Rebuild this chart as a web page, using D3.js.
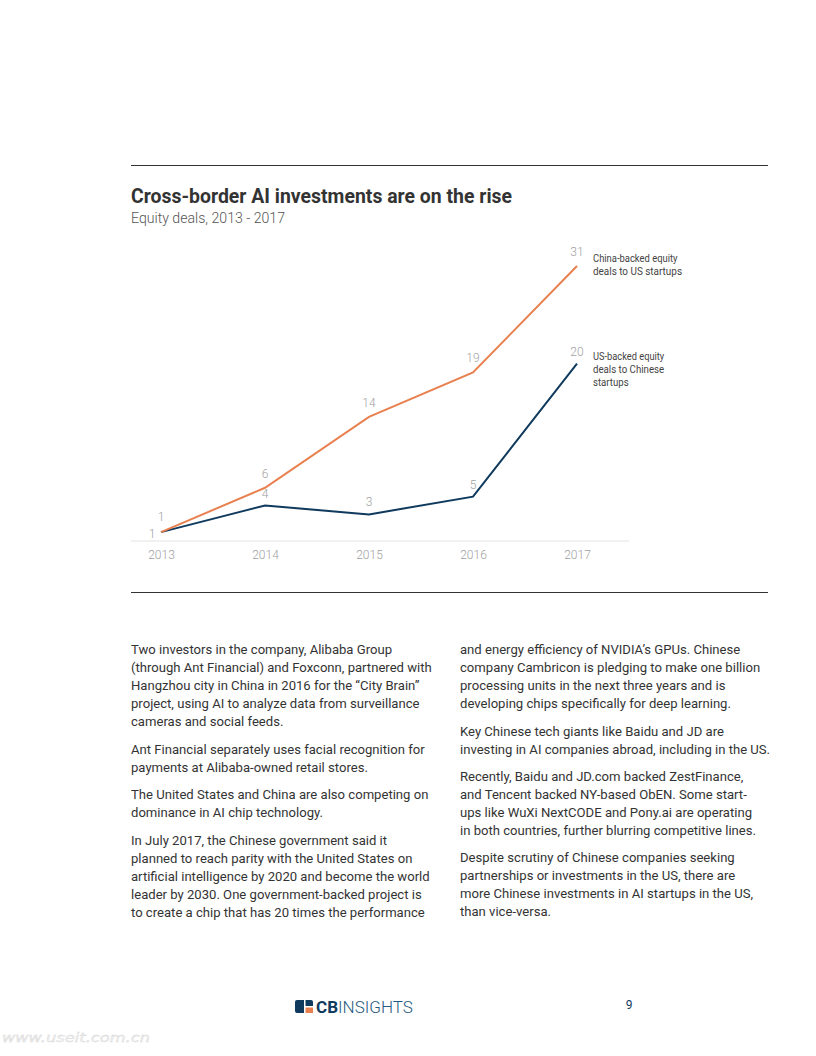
<!DOCTYPE html>
<html><head><meta charset="utf-8">
<script src="https://cdn.jsdelivr.net/npm/d3@7"></script>
<style>
body{margin:0;background:#fff;}
svg{display:block;}
</style></head>
<body>
<svg id="page" width="816" height="1056"></svg>
<script>
const years = ["2013","2014","2015","2016","2017"];
const chinaBacked = [1, 6, 14, 19, 31];
const usBacked = [1, 4, 3, 5, 20];
const seriesNames = [["China-backed equity","deals to US startups"],["US-backed equity","deals to Chinese","startups"]];
const leftColumn = [
 ["Two investors in the company, Alibaba Group","(through Ant Financial) and Foxconn, partnered with","Hangzhou city in China in 2016 for the \u201cCity Brain\u201d","project, using AI to analyze data from surveillance","cameras and social feeds."],
 ["Ant Financial separately uses facial recognition for","payments at Alibaba-owned retail stores."],
 ["The United States and China are also competing on","dominance in AI chip technology."],
 ["In July 2017, the Chinese government said it","planned to reach parity with the United States on","artificial intelligence by 2020 and become the world","leader by 2030. One government-backed project is","to create a chip that has 20 times the performance"]
];
const rightColumn = [
 ["and energy efficiency of NVIDIA\u2019s GPUs. Chinese","company Cambricon is pledging to make one billion","processing units in the next three years and is","developing chips specifically for deep learning."],
 ["Key Chinese tech giants like Baidu and JD are","investing in AI companies abroad, including in the US."],
 ["Recently, Baidu and JD.com backed ZestFinance,","and Tencent backed NY-based ObEN. Some start-","ups like WuXi NextCODE and Pony.ai are operating","in both countries, further blurring competitive lines."],
 ["Despite scrutiny of Chinese companies seeking","partnerships or investments in the US, there are","more Chinese investments in AI startups in the US,","than vice-versa."]
];

const svg = d3.select("#page");
const orange = "#e9804f", navy = "#0f3a5d";

// rules
svg.append("line").attr("x1",131).attr("x2",768).attr("y1",165.5).attr("y2",165.5).attr("stroke","#333").attr("stroke-width",1);
svg.append("line").attr("x1",131).attr("x2",768).attr("y1",592.5).attr("y2",592.5).attr("stroke","#333").attr("stroke-width",1);

// title
svg.append("text").attr("x",131).attr("y",203).text("Cross-border AI investments are on the rise")
  .attr("font-family","Roboto").attr("font-weight",700).attr("font-size",20).attr("fill","#333")
  .attr("textLength",381).attr("lengthAdjust","spacingAndGlyphs");
svg.append("text").attr("x",131).attr("y",223).text("Equity deals, 2013 - 2017")
  .attr("font-family","Roboto").attr("font-weight",300).attr("font-size",14.5).attr("fill","#555")
  .attr("textLength",154).attr("lengthAdjust","spacingAndGlyphs");

// scales
const x = d3.scalePoint().domain(years).range([161,577]);
const y = d3.scaleLinear().domain([0,31]).range([541,266]);

// axis baseline
svg.append("line").attr("x1",131).attr("x2",629).attr("y1",y(0)).attr("y2",y(0)).attr("stroke","#ececec").attr("stroke-width",1.5);

const xAxis = svg.append("g").attr("transform",`translate(0,${y(0)})`)
  .call(d3.axisBottom(x).tickSize(0).tickPadding(9));
xAxis.select(".domain").remove();
xAxis.selectAll("text").attr("font-family","Roboto").attr("font-weight",300).attr("font-size",12).attr("fill","#a0a0a0");

const line = d3.line().x((d,i)=>x(years[i])).y(d=>y(d));
svg.append("path").datum(usBacked).attr("d",line).attr("fill","none").attr("stroke",navy).attr("stroke-width",2);
svg.append("path").datum(chinaBacked).attr("d",line).attr("fill","none").attr("stroke",orange).attr("stroke-width",2);

// value labels
const lblFont = sel => sel.attr("font-family","Roboto").attr("font-weight",300).attr("font-size",12).attr("fill","#a0a0a0").attr("text-anchor","middle");
svg.append("g").selectAll("text").data(chinaBacked).join("text")
  .attr("x",(d,i)=>x(years[i])).attr("y",(d,i)=> y(d) - (i===0?11:10)).text(d=>d).call(lblFont);
svg.append("g").selectAll("text").data(usBacked).join("text")
  .attr("x",(d,i)=> i===0 ? x(years[i]) - 9 : x(years[i]))
  .attr("y",(d,i)=> i===0 ? y(d)+2 : y(d)-8).text(d=>d).call(lblFont)
  .attr("dy", (d,i)=> i===0 ? "0.35em" : null);

// series labels
const endIdx = years.length-1;
[[chinaBacked,seriesNames[0]],[usBacked,seriesNames[1]]].forEach(([vals,names])=>{
  const t = svg.append("text").attr("x",x(years[endIdx])+16).attr("y",y(vals[endIdx])-4)
    .attr("font-family","Roboto").attr("font-size",10).attr("fill","#444");
  names.forEach((n,i)=> t.append("tspan").attr("x",x(years[endIdx])+16).attr("dy", i===0?0:13).text(n)
     .attr("textLength", n.length*4.45).attr("lengthAdjust","spacingAndGlyphs"));
});

// body text
function column(paras, x0, starts){
  paras.forEach((p,pi)=>{
    p.forEach((ln,li)=>{
      svg.append("text").attr("x",x0).attr("y",starts[pi]+li*18).text(ln)
        .attr("font-family","Roboto").attr("font-size",13.1).attr("fill","#333");
    });
  });
}
column(leftColumn, 131, [654, 754, 799, 845]);
column(rightColumn, 460, [654, 736, 781, 862]);

// logo
const logo = svg.append("g").attr("transform","translate(295,1000)");
logo.append("rect").attr("x",0).attr("y",0).attr("width",18).attr("height",13).attr("rx",2).attr("fill",navy);
logo.append("rect").attr("x",10).attr("y",7).attr("width",8).attr("height",6).attr("fill",orange);
logo.append("rect").attr("x",9).attr("y",0).attr("width",1.5).attr("height",13).attr("fill","#fff");
logo.append("rect").attr("x",9).attr("y",6).attr("width",9).attr("height",1.5).attr("fill","#fff");
const lt = logo.append("text").attr("x",21).attr("y",13).attr("font-family","Roboto").attr("font-size",17).attr("fill",navy)
  .attr("textLength",97).attr("lengthAdjust","spacingAndGlyphs");
lt.append("tspan").attr("font-weight",700).text("CB");
lt.append("tspan").attr("font-weight",300).attr("fill","#1f5a80").text("INSIGHTS");

svg.append("text").attr("x",629).attr("y",1009).attr("text-anchor","middle").text("9")
  .attr("font-family","Roboto").attr("font-size",12).attr("fill",navy);

svg.append("text").attr("x",2).attr("y",1042).text("www.useit.com.cn")
  .attr("font-family","DejaVu Sans").attr("font-style","italic").attr("font-size",12)
  .attr("fill","#f4f4f4").attr("stroke","#cfcfcf").attr("stroke-width",0.3)
  .attr("textLength",148).attr("lengthAdjust","spacingAndGlyphs");
</script>
</body></html>
